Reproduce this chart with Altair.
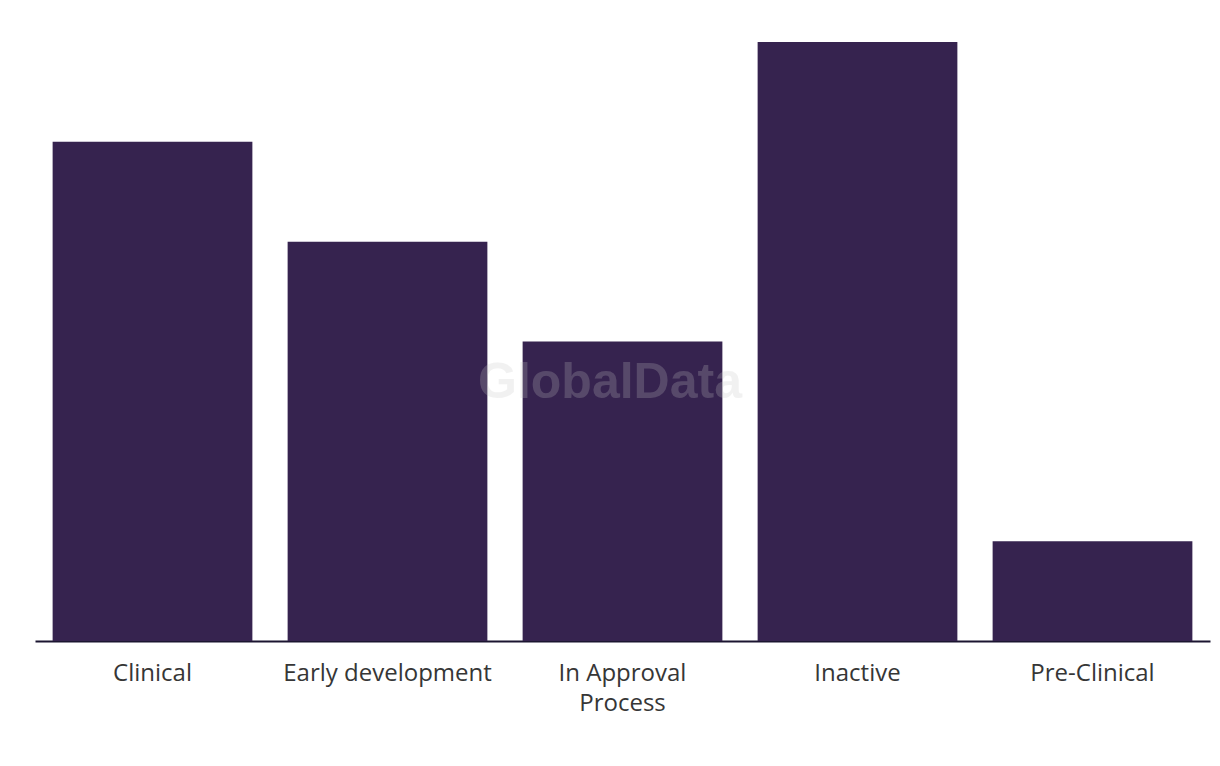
import altair as alt
import pandas as pd

categories = ["Clinical", "Early development", "In Approval Process", "Inactive", "Pre-Clinical"]
values = [5, 4, 3, 6, 1]

df = pd.DataFrame({"stage": categories, "count": values})

bars = alt.Chart(df).mark_bar(color="#36234F").encode(
    x=alt.X(
        "stage:N",
        sort=categories,
        title=None,
        scale=alt.Scale(paddingInner=0.15, paddingOuter=0.075),
        axis=alt.Axis(
            labelAngle=0,
            labelFont="Open Sans",
            labelFontSize=24,
            labelColor="#363636",
            labelPadding=20,
            labelLineHeight=30,
            labelLimit=400,
            labelExpr="datum.label == 'In Approval Process' ? ['In Approval', 'Process'] : datum.label",
            ticks=False,
            domainColor="#1B1530",
            domainWidth=2,
            grid=False,
        ),
    ),
    y=alt.Y(
        "count:Q",
        title=None,
        scale=alt.Scale(domain=[0, 6], nice=False),
        axis=None,
    ),
)

watermark = alt.Chart(pd.DataFrame({"t": ["GlobalData"]})).mark_text(
    font="Liberation Sans",
    fontSize=50,
    fontWeight="bold",
    color="#C6C6C6",
    opacity=0.23,
    align="center",
    baseline="middle",
).encode(text="t:N", x=alt.value(575), y=alt.value(341))

chart = (bars + watermark).properties(
    width=1175,
    height=599,
    autosize=alt.AutoSizeParams(type="none"),
    padding={"left": 27, "top": 34, "right": 2, "bottom": 100},
).configure_view(stroke=None)

chart.save("out.html", embed_options={"renderer": "svg", "actions": False})
